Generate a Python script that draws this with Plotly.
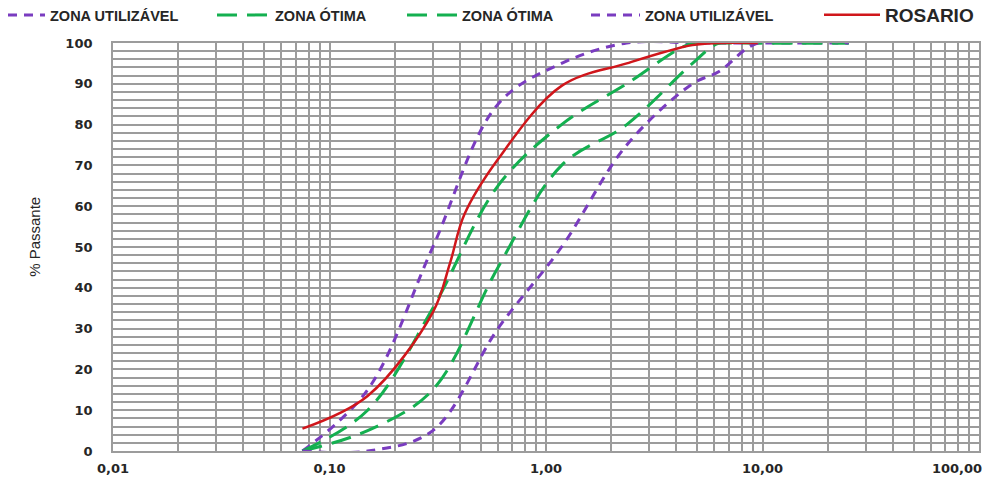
import plotly.graph_objects as go

# ---- data ----
sieves = [0.075, 0.15, 0.3, 0.6, 1.18, 2.36, 4.75, 6.3, 9.5, 25.0]
util_upper = [0, 15, 50, 85, 95, 100, 100, 100, 100, 100]
otima_upper = [0, 10, 35, 65, 80, 90, 100, 100, 100, 100]
otima_lower = [0, 5, 15, 45, 70, 80, 95, 100, 100, 100]
util_lower = [0, 0, 5, 30, 50, 75, 90, 93, 100, 100]

rosario_sizes = [0.075, 0.15, 0.3, 0.36, 0.42, 0.6, 1.18, 2.36, 4.75, 6.3, 9.5]
rosario_pass = [5.5, 13.5, 34, 46, 58, 71.5, 89.5, 95, 99.5, 100, 100]

x_tickvals = [0.01, 0.1, 1, 10]
x_ticktext = ["0,01", "0,10", "1,00", "10,00"]
x_last_tickval = [100]
x_last_ticktext = ["100,00"]
x_minor = [m * d for d in (0.01, 0.1, 1, 10) for m in range(2, 10)] + [100]

PURPLE = "#7a3cc0"
GREEN = "#14b050"
RED = "#d0161b"
GRID = "#9c9c9c"
TXT = "#262626"

fig = go.Figure()
fig.add_trace(go.Scatter(x=sieves, y=util_upper, name="ZONA UTILIZÁVEL", mode="lines",
                         legend="legend",
                         line=dict(color=PURPLE, width=3, dash="9px,7px", shape="spline")))
fig.add_trace(go.Scatter(x=sieves, y=otima_upper, name="ZONA ÓTIMA", mode="lines",
                         legend="legend2",
                         line=dict(color=GREEN, width=3, dash="20px,10px", shape="spline")))
fig.add_trace(go.Scatter(x=sieves, y=otima_lower, name="ZONA ÓTIMA", mode="lines",
                         legend="legend3",
                         line=dict(color=GREEN, width=3, dash="20px,10px", shape="spline")))
fig.add_trace(go.Scatter(x=sieves, y=util_lower, name="ZONA UTILIZÁVEL", mode="lines",
                         legend="legend4",
                         line=dict(color=PURPLE, width=3, dash="9px,7px", shape="spline")))
# ROSARIO on the overlaid twin x-axis (identical log scale) so it draws on top
fig.add_trace(go.Scatter(x=rosario_sizes, y=rosario_pass, name="ROSARIO", mode="lines",
                         legend="legend5", xaxis="x2", yaxis="y",
                         line=dict(color=RED, width=2.5, shape="spline")))


def leg(left_px, itemwidth, size):
    return dict(orientation="h", xref="container", yref="container",
                x=left_px / 992, xanchor="left", y=1 - 15 / 486, yanchor="middle",
                itemwidth=itemwidth, bgcolor="rgba(0,0,0,0)",
                font=dict(family="Liberation Sans", size=size, color=TXT, weight="bold"))


tickfont = dict(family="DejaVu Sans", size=13, color=TXT, weight="bold")

fig.update_layout(
    width=992, height=486,
    margin=dict(l=113, r=13, t=43, b=35, autoexpand=False),
    plot_bgcolor="white", paper_bgcolor="white",
    separators=",.",
    showlegend=True,
    legend=leg(3, 37, 14.5),
    legend2=leg(212, 53, 14.5),
    legend3=leg(402, 50, 14.5),
    legend4=leg(586, 49, 14.5),
    legend5=leg(819, 56, 19),
    xaxis=dict(type="log", range=[-2, 2], tickmode="array",
               tickvals=x_tickvals, ticktext=x_ticktext,
               showgrid=True, gridcolor=GRID, gridwidth=1.8,
               minor=dict(tickvals=x_minor, showgrid=True, gridcolor=GRID, gridwidth=1.8),
               showline=True, mirror=True, linecolor=GRID, linewidth=1.8,
               ticks="", ticklabelstandoff=4, zeroline=False,
               tickfont=tickfont),
    xaxis2=dict(type="log", range=[-2, 2], overlaying="x", anchor="y", side="bottom",
                tickmode="array", tickvals=x_last_tickval, ticktext=x_last_ticktext,
                showgrid=False, showline=False, zeroline=False, ticks="",
                ticklabelstandoff=8, ticklabelshift=-22, ticklabeloverflow="allow",
                tickfont=tickfont),
    yaxis=dict(range=[0, 100], dtick=10, tick0=0,
               showgrid=True, gridcolor=GRID, gridwidth=1.8,
               minor=dict(dtick=2, showgrid=True, gridcolor=GRID, gridwidth=1.8),
               showline=True, mirror=True, linecolor=GRID, linewidth=1.8,
               ticks="", ticklabelstandoff=16, zeroline=False,
               tickfont=tickfont),
    annotations=[dict(text="% Passante", xref="paper", yref="paper",
                      x=-0.09, y=0.525, textangle=-90, showarrow=False,
                      xanchor="center", yanchor="middle",
                      font=dict(family="Liberation Sans", size=15, color=TXT))],
)

fig.write_html("out.html")
